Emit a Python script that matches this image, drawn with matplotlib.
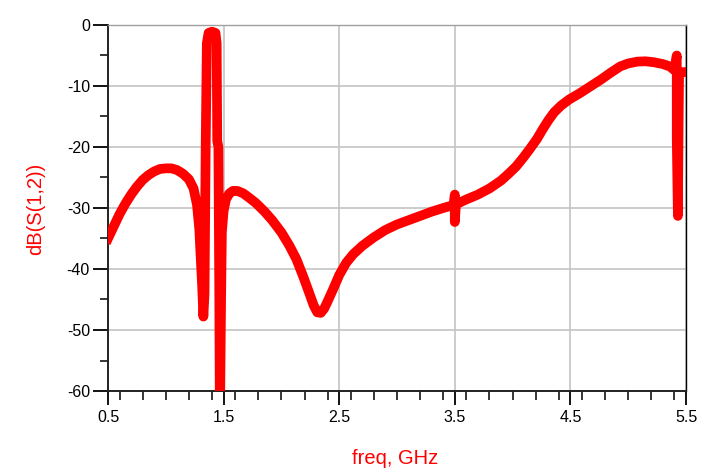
import numpy as np
import matplotlib
matplotlib.use('Agg')
from matplotlib import pyplot as plt
from matplotlib.ticker import MultipleLocator, FixedLocator

plt.rcParams['font.family'] = ['Liberation Sans', 'DejaVu Sans']
plt.rcParams['axes.unicode_minus'] = False

# dB(S(1,2)) trace
freq = [0.50, 0.55, 0.60, 0.65, 0.70, 0.75, 0.80, 0.85, 0.90, 0.95, 1.00, 1.05,
        1.10, 1.15, 1.20, 1.24, 1.27, 1.29, 1.30, 1.315, 1.325,
        1.335, 1.345, 1.355, 1.37, 1.40, 1.43, 1.44, 1.445, 1.455, 1.463, 1.468,
        1.478, 1.485, 1.50, 1.52, 1.55, 1.58, 1.62, 1.67, 1.72, 1.78, 1.85, 1.92,
        2.00, 2.07, 2.13, 2.19, 2.24, 2.28, 2.31, 2.34, 2.37, 2.40, 2.45, 2.50,
        2.56, 2.62, 2.70, 2.80, 2.90, 3.00, 3.10, 3.20, 3.30, 3.40, 3.49,
        3.50, 3.50, 3.51, 3.60, 3.70, 3.80, 3.90, 3.97, 4.03, 4.09, 4.15, 4.21,
        4.26, 4.31, 4.36, 4.42, 4.49, 4.58, 4.67, 4.76, 4.85, 4.93, 5.00, 5.08,
        5.15, 5.22, 5.30, 5.36, 5.40, 5.42, 5.42, 5.43, 5.435, 5.44, 5.50]
s12_db = [-35.0, -33.0, -31.0, -29.3, -27.8, -26.5, -25.4, -24.6, -24.0, -23.6, -23.5, -23.5,
          -23.8, -24.4, -25.3, -26.8, -29.5, -33.5, -37.4, -43.0, -47.8,
          -44.0, -20.0, -3.0, -1.3, -1.1, -1.3, -3.0, -19.0, -20.0, -45.0, -66.0,
          -45.4, -34.0, -30.5, -28.6, -27.6, -27.2, -27.2, -27.6, -28.3, -29.2, -30.5, -32.0,
          -34.0, -36.2, -38.4, -41.3, -43.9, -46.0, -47.1, -47.2, -46.5, -45.3, -43.2, -41.0,
          -39.0, -37.6, -36.2, -34.8, -33.6, -32.7, -32.0, -31.3, -30.6, -30.0, -29.5,
          -27.8, -32.3, -29.4, -28.6, -27.8, -26.8, -25.5, -24.3, -23.2, -21.8, -20.3, -18.7,
          -17.1, -15.6, -14.3, -13.2, -12.2, -11.2, -10.1, -9.0, -7.8, -6.8, -6.3, -6.0,
          -5.95, -6.1, -6.4, -6.8, -7.4, -5.0, -18.5, -31.3, -18.5, -7.8, -7.7]

x_major = [0.5, 1.5, 2.5, 3.5, 4.5, 5.5]
x_labels = ['0.5', '1.5', '2.5', '3.5', '4.5', '5.5']
y_major = [0, -10, -20, -30, -40, -50, -60]

fig = plt.figure(figsize=(7.17, 4.76), dpi=100)
ax = fig.add_axes([108 / 717, 1 - 391 / 476, (686 - 108) / 717, (391 - 25) / 476])

ax.plot(freq, s12_db, color='#ff0000', lw=7, solid_joinstyle='round', zorder=3)

ax.set_xlim(0.5, 5.5)
ax.set_ylim(-60, 0)
ax.xaxis.set_major_locator(FixedLocator(x_major))
ax.set_xticklabels(x_labels)
ax.xaxis.set_minor_locator(MultipleLocator(0.2))
ax.yaxis.set_major_locator(FixedLocator(y_major))
ax.yaxis.set_minor_locator(MultipleLocator(5))

ax.grid(True, which='major', color='#c4c4c4', lw=1.2, zorder=0)
ax.set_axisbelow(True)

ax.tick_params(axis='x', which='major', direction='out', length=10, width=1.3,
               pad=4, labelsize=11.5, colors='black')
ax.tick_params(axis='x', which='minor', direction='out', length=6.5, width=1.1)
ax.tick_params(axis='y', which='major', direction='out', length=11, width=1.3,
               pad=2, labelsize=11.5, colors='black')
ax.tick_params(axis='y', which='minor', direction='out', length=6, width=1.1)

for side in ['left', 'bottom']:
    ax.spines[side].set_linewidth(1.4)
    ax.spines[side].set_color('#222222')
ax.spines['top'].set_color('#a0a0a0')
ax.spines['top'].set_linewidth(1.0)
ax.spines['right'].set_color('black')
ax.spines['right'].set_linewidth(1.0)

fig.text(36 / 717, 1 - 209 / 476, 'dB(S(1,2))', color='#ff0000', fontsize=14.5,
         rotation=90, ha='center', va='center')
fig.text(395 / 717, 1 - 458 / 476, 'freq, GHz', color='#ff0000', fontsize=14.5,
         ha='center', va='center')

fig.savefig('out.png', dpi=100)
